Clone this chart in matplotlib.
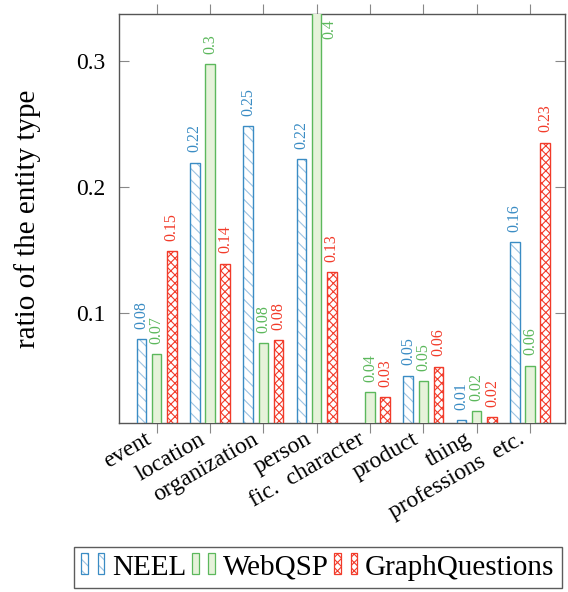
import matplotlib
matplotlib.use('Agg')
import matplotlib.pyplot as plt
import matplotlib.transforms as mtransforms
import numpy as np
from matplotlib.patches import Rectangle
from matplotlib.legend_handler import HandlerBase

##### data #####
categories = ['event', 'location', 'organization', 'person',
              'fic.  character', 'product', 'thing', 'professions  etc.']
neel = [0.079, 0.219, 0.248, 0.222, 0.0, 0.050, 0.0146, 0.156]
webqsp = [0.067, 0.297, 0.076, 0.40, 0.037, 0.0455, 0.0217, 0.058]
graphq = [0.149, 0.139, 0.078, 0.132, 0.033, 0.057, 0.0172, 0.235]
series_names = ['NEEL', 'WebQSP', 'GraphQuestions']
yticks = [0.1, 0.2, 0.3]

##### style #####
blue = '#3a8cc4'
blue_light = '#9cc3e2'
green = '#5cb85c'
green_fill = '#e6f2da'
red = '#f23b2a'

plt.rcParams['font.family'] = ['Liberation Serif', 'DejaVu Serif']
plt.rcParams['hatch.linewidth'] = 0.8

ymin, ymax = 0.0125, 0.337


def fmt(v):
    s = f'{v:.2f}'
    s = s.rstrip('0').rstrip('.') if '.' in s else s
    return s


# legend entry with two little bars, like pgfplots
class TwoBars(HandlerBase):
    def __init__(self, face, edge, hatch, hatch_col):
        super().__init__()
        self.face, self.edge, self.hatch, self.hatch_col = face, edge, hatch, hatch_col

    def create_artists(self, legend, orig_handle, xdescent, ydescent,
                       width, height, fontsize, trans):
        arts = []
        bw = width * 0.27
        bh = height * 1.0
        y0 = -ydescent + height * 0.05
        for x0 in [0, width * 0.66]:
            if self.hatch:
                r1 = Rectangle((x0, y0), bw, bh, facecolor='none',
                               edgecolor=self.hatch_col, hatch=self.hatch,
                               linewidth=0, transform=trans)
                arts.append(r1)
            r2 = Rectangle((x0, y0), bw, bh, facecolor=self.face if not self.hatch else 'none',
                           edgecolor=self.edge, linewidth=0.9, transform=trans)
            arts.append(r2)
        return arts


fig = plt.figure(figsize=(5.68, 5.92), dpi=100)
ax = fig.add_axes([0.2095, 0.2855, 0.7852, 0.6909])

x = np.arange(len(categories))
w = 0.18
off = 0.285

# NEEL: hatch drawn in light blue, outline in blue
ax.bar(x - off, neel, w, bottom=0, facecolor='white', edgecolor=blue_light,
       hatch='\\\\\\', linewidth=0, zorder=2)
ax.bar(x - off, neel, w, facecolor='none', edgecolor=blue, linewidth=1.0, zorder=3)
# WebQSP
ax.bar(x, webqsp, w, facecolor=green_fill, edgecolor=green, linewidth=1.0, zorder=3)
# GraphQuestions
ax.bar(x + off, graphq, w, facecolor='white', edgecolor=red,
       hatch='xxxx', linewidth=0, zorder=2)
ax.bar(x + off, graphq, w, facecolor='none', edgecolor=red, linewidth=1.0, zorder=3)

# value labels
for vals, dx, col in [(neel, -off, blue), (webqsp, 0, green), (graphq, off, red)]:
    for i, v in enumerate(vals):
        if v < ymin:
            continue
        if v > ymax:
            ax.annotate(fmt(v), (i + dx, ymax), xytext=(9, -4), textcoords='offset points',
                        rotation=90, ha='center', va='top', color=col, fontsize=11.5,
                        annotation_clip=False)
        else:
            ax.annotate(fmt(v), (i + dx, v), xytext=(0, 7.5), textcoords='offset points',
                        rotation=90, ha='center', va='bottom', color=col, fontsize=11.5)

ax.set_xlim(-0.705, 7.655)
ax.set_ylim(ymin, ymax)
ax.set_yticks(yticks)
ax.set_yticklabels([fmt(t) for t in yticks], fontsize=17)
ax.set_xticks(x)
ax.set_xticklabels(categories, rotation=30, ha='right', va='top',
                   rotation_mode='anchor', fontsize=17)
ax.tick_params(axis='y', direction='in', left=True, right=True, length=7,
               color='#888888', width=0.8, pad=10)
ax.tick_params(axis='x', direction='out', bottom=True, top=True, length=7,
               color='#888888', width=0.8, pad=0)
# shift the slanted labels a bit left/up, like the original
shift = mtransforms.ScaledTranslation(-12 / 100, 4 / 100, fig.dpi_scale_trans)
for lab in ax.get_xticklabels():
    lab.set_transform(lab.get_transform() + shift)
for s in ax.spines.values():
    s.set_color('#555555')
    s.set_linewidth(1.0)
ax.set_ylabel('ratio of the entity type', fontsize=21, labelpad=25)

handles = [Rectangle((0, 0), 1, 1) for _ in range(3)]
hmap = {handles[0]: TwoBars('white', blue, '\\\\\\', blue_light),
        handles[1]: TwoBars(green_fill, green, None, None),
        handles[2]: TwoBars('white', red, 'xxxx', red)}
leg = fig.legend(handles, series_names, handler_map=hmap, loc='upper left',
                 bbox_to_anchor=(74 / 568, 1 - 547 / 592), ncol=3, fontsize=21,
                 frameon=True, fancybox=False, edgecolor='#333333',
                 handlelength=0.85, handletextpad=0.2, columnspacing=0.2,
                 borderpad=0.25, borderaxespad=0)
leg.get_frame().set_linewidth(1.0)

fig.savefig('out.png', dpi=100)
